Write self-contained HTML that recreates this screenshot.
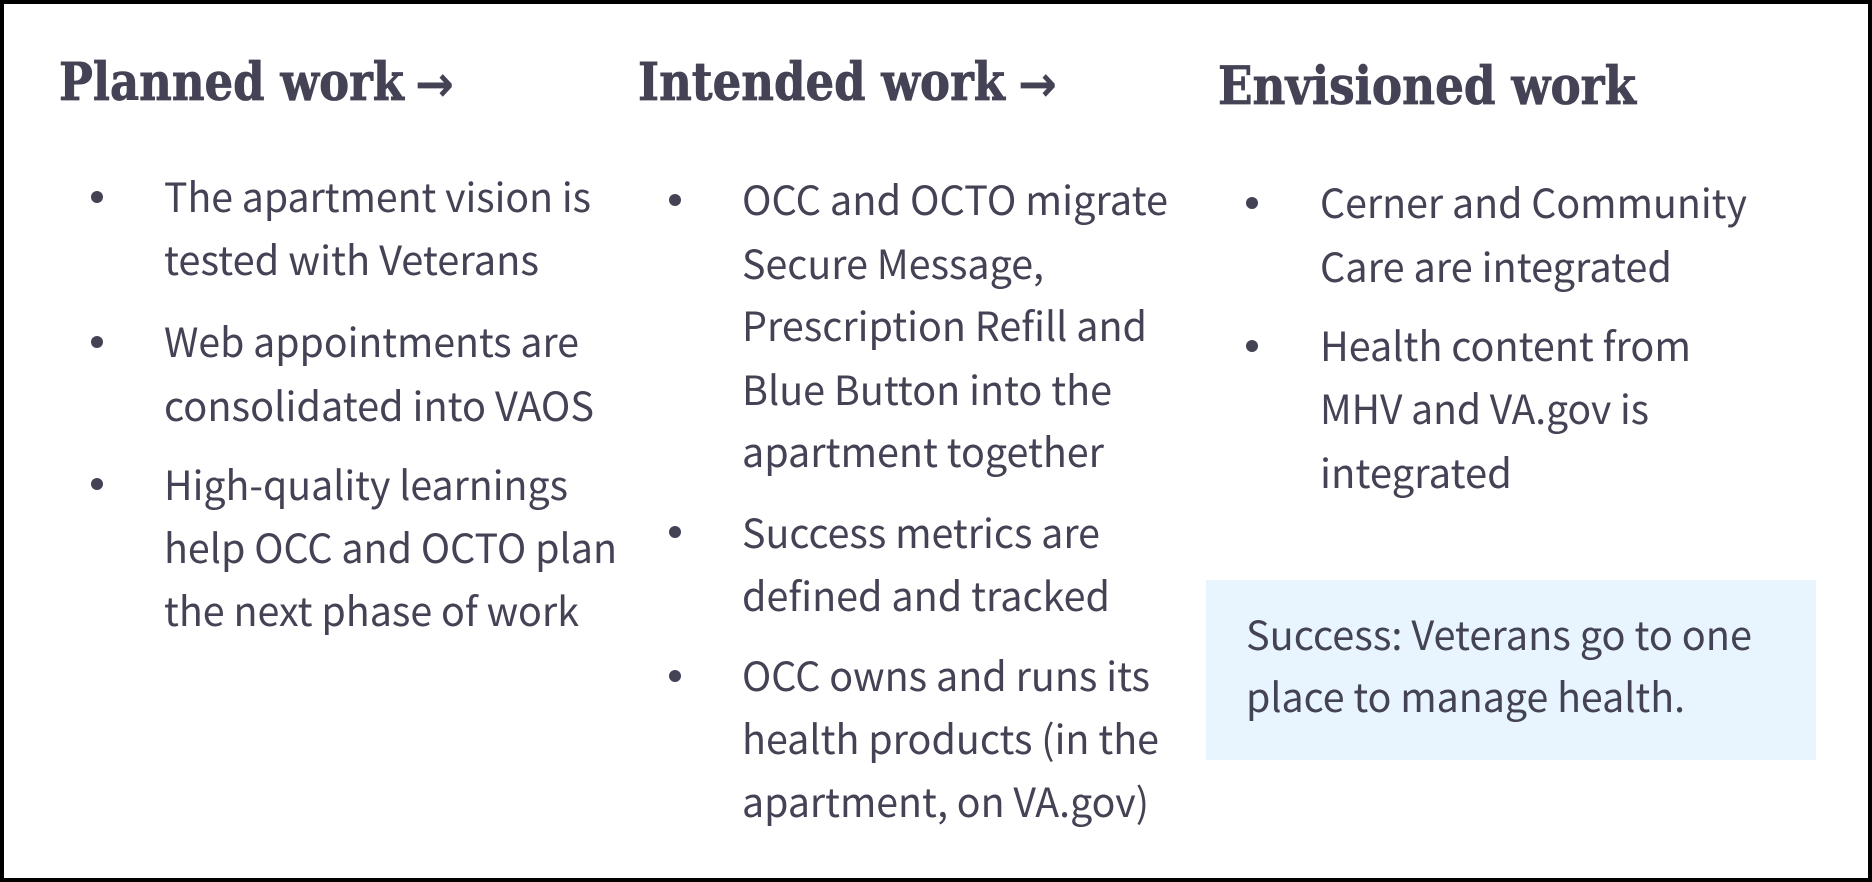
<!DOCTYPE html>
<html lang="en">
<head>
<meta charset="utf-8">
<title>Planned, intended and envisioned work</title>
<style>
html,body{margin:0;padding:0;background:#fff;width:1872px;height:882px;overflow:hidden}
svg{display:block}
.h{font-family:"DejaVu Serif","Liberation Serif",serif;font-weight:700;font-size:52px;fill:#444355;stroke:#444355;stroke-width:.8px}
.a{font-family:"DejaVu Sans","Liberation Sans",sans-serif;font-weight:700;font-size:50px;fill:#444355}
.b{font-family:"Noto Sans CJK JP","Liberation Sans",sans-serif;font-size:40px;fill:#444355}
</style>
</head>
<body>
<svg width="1872" height="882" viewBox="0 0 1872 882" xmlns="http://www.w3.org/2000/svg">
<rect x="2" y="2" width="1868" height="878" fill="#fff" stroke="#000" stroke-width="4"/>

<g>
<text class="h" x="59" y="100" textLength="345" lengthAdjust="spacingAndGlyphs">Planned work</text>
<text class="a" x="415" y="101" textLength="39" lengthAdjust="spacingAndGlyphs">→</text>
<circle cx="97" cy="197" r="6" fill="#444355"/>
<circle cx="97" cy="342" r="6" fill="#444355"/>
<circle cx="97" cy="484" r="6" fill="#444355"/>
<text class="b" x="164" y="212" textLength="427" lengthAdjust="spacingAndGlyphs">The apartment vision is</text>
<text class="b" x="164" y="275" textLength="375" lengthAdjust="spacingAndGlyphs">tested with Veterans</text>
<text class="b" x="164" y="357" textLength="415" lengthAdjust="spacingAndGlyphs">Web appointments are</text>
<text class="b" x="164" y="421" textLength="430" lengthAdjust="spacingAndGlyphs">consolidated into VAOS</text>
<text class="b" x="164" y="500" textLength="404" lengthAdjust="spacingAndGlyphs">High-quality learnings</text>
<text class="b" x="164" y="563" textLength="453" lengthAdjust="spacingAndGlyphs">help OCC and OCTO plan</text>
<text class="b" x="164" y="626" textLength="415" lengthAdjust="spacingAndGlyphs">the next phase of work</text>
</g>

<g>
<text class="h" x="638" y="100" textLength="367" lengthAdjust="spacingAndGlyphs">Intended work</text>
<text class="a" x="1018" y="101" textLength="39" lengthAdjust="spacingAndGlyphs">→</text>
<circle cx="675" cy="200" r="6" fill="#444355"/>
<circle cx="675" cy="532" r="6" fill="#444355"/>
<circle cx="675" cy="676" r="6" fill="#444355"/>
<text class="b" x="742" y="215" textLength="426" lengthAdjust="spacingAndGlyphs">OCC and OCTO migrate</text>
<text class="b" x="742" y="279" textLength="302" lengthAdjust="spacingAndGlyphs">Secure Message,</text>
<text class="b" x="742" y="341" textLength="405" lengthAdjust="spacingAndGlyphs">Prescription Refill and</text>
<text class="b" x="742" y="405" textLength="370" lengthAdjust="spacingAndGlyphs">Blue Button into the</text>
<text class="b" x="742" y="467" textLength="362" lengthAdjust="spacingAndGlyphs">apartment together</text>
<text class="b" x="742" y="548" textLength="358" lengthAdjust="spacingAndGlyphs">Success metrics are</text>
<text class="b" x="742" y="611" textLength="368" lengthAdjust="spacingAndGlyphs">defined and tracked</text>
<text class="b" x="742" y="691" textLength="408" lengthAdjust="spacingAndGlyphs">OCC owns and runs its</text>
<text class="b" x="742" y="754" textLength="417" lengthAdjust="spacingAndGlyphs">health products (in the</text>
<text class="b" x="742" y="817" textLength="407" lengthAdjust="spacingAndGlyphs">apartment, on VA.gov)</text>
</g>

<g>
<text class="h" x="1218" y="104" textLength="418" lengthAdjust="spacingAndGlyphs">Envisioned work</text>
<circle cx="1252" cy="203" r="6" fill="#444355"/>
<circle cx="1252" cy="346" r="6" fill="#444355"/>
<text class="b" x="1320" y="218" textLength="427" lengthAdjust="spacingAndGlyphs">Cerner and Community</text>
<text class="b" x="1320" y="282" textLength="352" lengthAdjust="spacingAndGlyphs">Care are integrated</text>
<text class="b" x="1320" y="361" textLength="371" lengthAdjust="spacingAndGlyphs">Health content from</text>
<text class="b" x="1320" y="424" textLength="329" lengthAdjust="spacingAndGlyphs">MHV and VA.gov is</text>
<text class="b" x="1320" y="488" textLength="192" lengthAdjust="spacingAndGlyphs">integrated</text>
<rect x="1206" y="580" width="610" height="180" fill="#e8f4fe"/>
<text class="b" x="1246" y="650" textLength="506" lengthAdjust="spacingAndGlyphs">Success: Veterans go to one</text>
<text class="b" x="1246" y="712" textLength="439" lengthAdjust="spacingAndGlyphs">place to manage health.</text>
</g>
</svg>
</body>
</html>
